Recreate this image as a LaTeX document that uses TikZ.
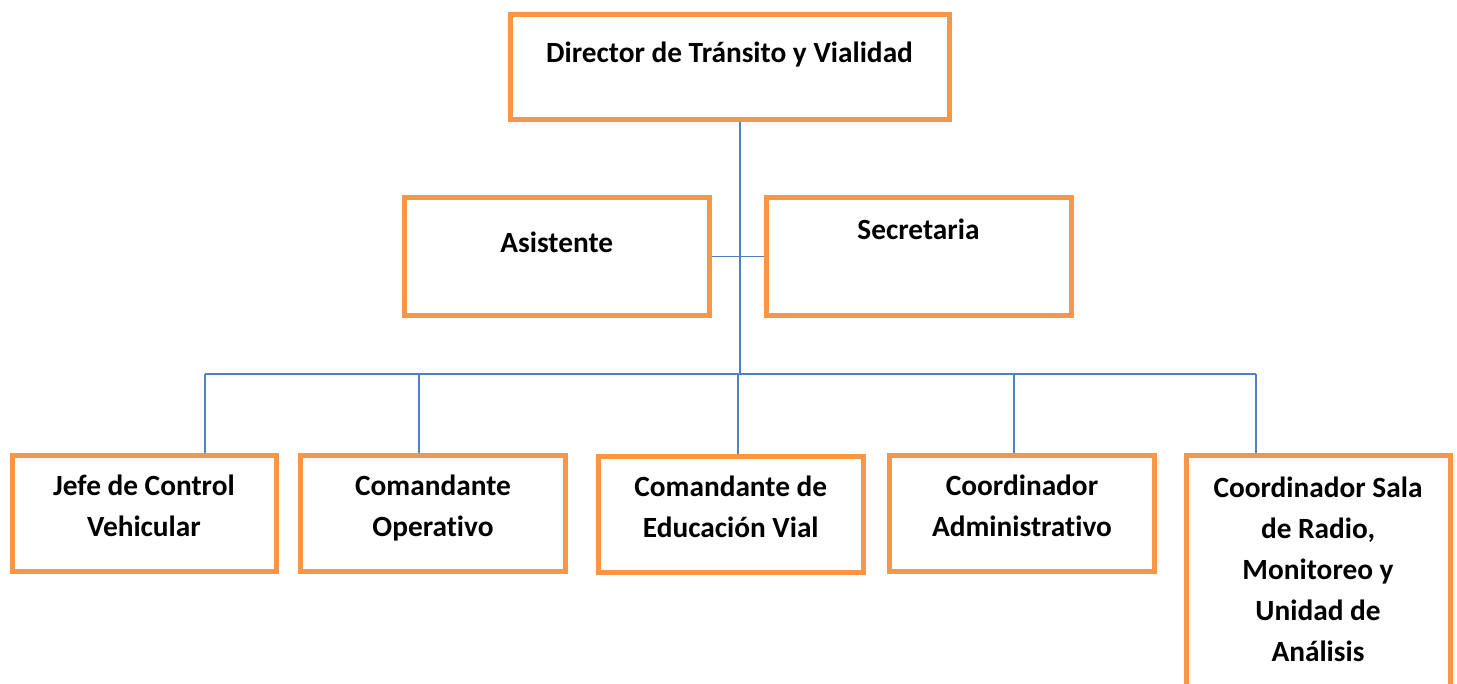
\documentclass[tikz,border=0pt]{standalone}
\usepackage{fontspec}
\setmainfont{Carlito}[Ligatures=NoCommon]
\usepackage{tikz}
\usetikzlibrary{positioning}
\definecolor{boxorange}{HTML}{F79646}
\definecolor{lineblue}{HTML}{4F81BD}
\tikzset{
  pbox/.style={rectangle, draw=boxorange, line width=3.75pt, align=center,
               font=\fontsize{22pt}{30.75pt}\selectfont\bfseries,
               inner sep=0pt, minimum width=#1},
  rowbox/.style={pbox=#1, text height=60.75pt, text depth=26.25pt},
  ln/.style={draw=lineblue, line width=1.4pt},
}

\begin{document}
\begin{tikzpicture}[x=0.75pt, y=-0.75pt]
  \useasboundingbox (0,0) rectangle (1457,683);
  \clip (0,0) rectangle (1457,683);

  \node[pbox=329.25pt, text height=36pt, text depth=43.1pt] (dir) at (729.5,66.75)
       {Director de Tránsito y Vialidad};
  \node[pbox=228.4pt, text height=40.9pt, text depth=47.6pt] (asis) at (556.75,256.5)
       {Asistente};
  \node[pbox=228.75pt, text height=31.5pt, text depth=57pt] (secr) at (918.5,256.5)
       {Secretaria};

  \node[rowbox=198pt] (jefe) at (144,513) {Jefe de Control\\Vehicular};
  \node[rowbox=198.75pt] (comop) at (433,513) {Comandante\\Operativo};
  \node[rowbox=198.4pt] (edu) at (730.75,514.75) {Comandante de\\Educación Vial};
  \node[rowbox=198.75pt] (adm) at (1022,513) {Coordinador\\Administrativo};
  \node[pbox=198pt, text height=154.9pt, text depth=25.1pt] (sala) at (1318,575)
       {Coordinador Sala\\de Radio,\\Monitoreo y\\Unidad de\\Análisis};

  % bus and drops
  \coordinate (trunk) at (740,374);
  \coordinate (b1) at (205,374);
  \coordinate (b2) at (419,374);
  \coordinate (b3) at (738,374);
  \coordinate (b4) at (1014,374);
  \coordinate (b5) at (1256,374);

  \draw[ln] (trunk |- dir.south) -- (trunk);
  \draw[ln] (asis.east) -- (secr.west);
  \draw[ln] (b1) -- (b5);
  \foreach \b/\n in {b1/jefe, b2/comop, b3/edu, b4/adm, b5/sala}
    \draw[ln] (\b) -- (\b |- \n.north);
\end{tikzpicture}
\end{document}
